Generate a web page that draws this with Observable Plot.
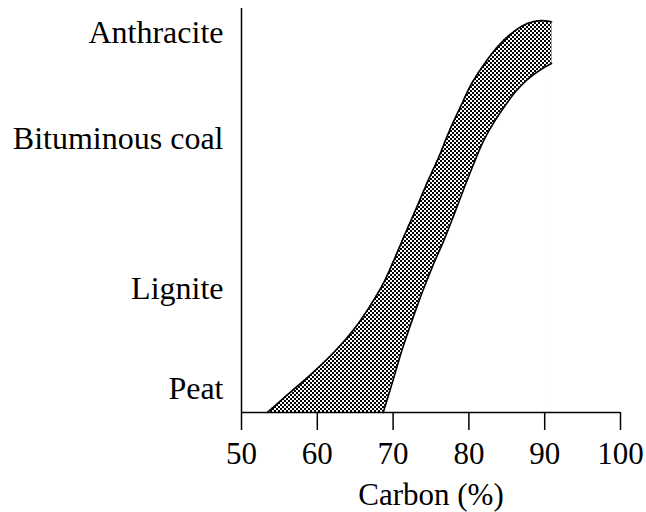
<!DOCTYPE html>
<html>
<head>
<meta charset="utf-8">
<script src="https://cdn.jsdelivr.net/npm/d3@7"></script>
<script src="https://cdn.jsdelivr.net/npm/@observablehq/plot@0.6"></script>
<style>
  html, body { margin: 0; padding: 0; background: #fff; }
</style>
</head>
<body>
<div id="chart"></div>
<script>
// Coal rank categories and their position on the rank axis (arbitrary units 0-100)
const rankNames = ["Peat", "Lignite", "Bituminous coal", "Anthracite"];
const rankPos = [5.9, 30.7, 67.8, 94.1];

// Upper-left boundary of the band (carbon %, rank)
const upperCarbon = [53.4, 56.2, 59.2, 62.3, 65.0, 66.9, 68.7, 70.2, 71.6, 73.1, 74.5, 76.0, 77.4, 78.9, 80.3, 81.9, 83.8, 85.8, 87.7, 89.5, 90.9];
const upperRank   = [0, 4.6, 9.5, 15.1, 21.0, 26.2, 31.9, 38.1, 44.3, 50.7, 56.9, 63.1, 69.6, 75.7, 81.2, 85.9, 90.6, 94.1, 96.3, 97.0, 96.7];

// Lower-right boundary of the band (carbon %, rank)
const lowerCarbon = [68.7, 69.9, 71.2, 72.6, 74.0, 75.3, 76.7, 78.0, 79.3, 80.6, 81.9, 83.3, 84.6, 86.2, 87.7, 89.5, 90.9];
const lowerRank   = [0, 7.4, 15.6, 23.3, 30.5, 36.6, 42.6, 48.8, 55.2, 61.4, 67.1, 71.8, 75.5, 79.5, 82.4, 84.9, 86.4];

const xTicks = [50, 60, 70, 80, 90, 100];

const upper = upperCarbon.map((c, i) => ({carbon: c, rank: upperRank[i]}));
const lower = lowerCarbon.map((c, i) => ({carbon: c, rank: lowerRank[i]}));
const edge = [{
  carbon: upperCarbon[upperCarbon.length - 1],
  r1: lowerRank[lowerRank.length - 1],
  r2: upperRank[upperRank.length - 1]
}];

const curve = "catmull-rom";

const plot = Plot.plot({
  width: 646,
  height: 512,
  marginLeft: 241,
  marginRight: 26,
  marginTop: 8,
  marginBottom: 100,
  style: {fontFamily: "'Liberation Serif', 'Times New Roman', serif", fontSize: "31px", color: "#000", background: "#fff"},
  x: {domain: [50, 100]},
  y: {domain: [0, 100]},
  marks: [
    Plot.areaY(upper, {x: "carbon", y: "rank", fill: "url(#checker)", curve}),
    Plot.areaY(lower, {x: "carbon", y: "rank", fill: "#fff", curve}),
    Plot.lineY(upper, {x: "carbon", y: "rank", stroke: "#000", strokeWidth: 1.6, curve}),
    Plot.lineY(lower, {x: "carbon", y: "rank", stroke: "#000", strokeWidth: 1.6, curve}),
    Plot.ruleX(edge, {x: "carbon", y1: "r1", y2: "r2", stroke: "#666", strokeWidth: 0.6}),
    Plot.ruleX([50], {stroke: "#000", strokeWidth: 1.5}),
    Plot.ruleY([0], {stroke: "#000", strokeWidth: 1.5}),
    Plot.axisX({ticks: xTicks, tickSize: 18, tickPadding: 11, tickFormat: d => String(d),
      fontSize: 31, label: "Carbon (%)", labelAnchor: "center", labelArrow: "none", labelOffset: 92, strokeWidth: 1.5}),
    Plot.axisY({ticks: rankPos, tickSize: 0, tickPadding: 18, fontSize: 32,
      tickFormat: d => rankNames[rankPos.indexOf(d)], label: null})
  ]
});

// checkerboard fill pattern
const ns = "http://www.w3.org/2000/svg";
const defs = document.createElementNS(ns, "defs");
defs.innerHTML = '<pattern id="checker" width="4" height="4" patternUnits="userSpaceOnUse">' +
  '<rect width="4" height="4" fill="#fff"/>' +
  '<rect width="2" height="2" fill="#000"/>' +
  '<rect x="2" y="2" width="2" height="2" fill="#000"/></pattern>';
plot.insertBefore(defs, plot.firstChild);

document.getElementById("chart").appendChild(plot);
</script>
</body>
</html>
